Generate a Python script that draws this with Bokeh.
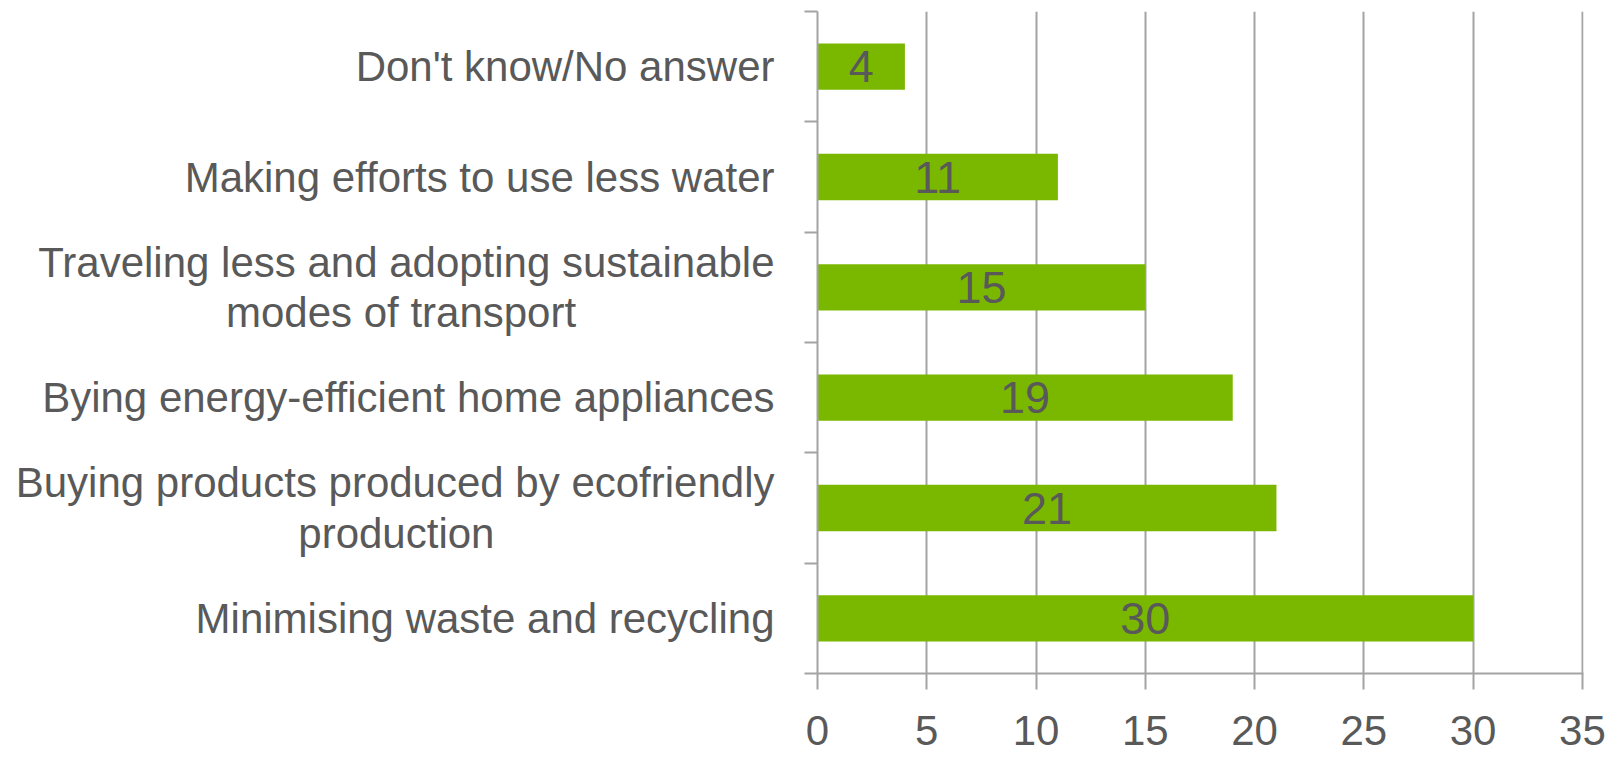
from bokeh.plotting import figure
from bokeh.models import FixedTicker, Range1d, ColumnDataSource, LinearAxis
from bokeh.core.properties import value
from bokeh.embed import file_html
from bokeh.resources import INLINE

NB = "\u00a0"
categories = [
    "Minimising waste and recycling",
    "Buying products produced by ecofriendly\nproduction" + NB * 24,
    "Bying energy-efficient home appliances",
    "Traveling less and adopting sustainable\nmodes of transport" + NB * 17,
    "Making efforts to use less water",
    "Don't know/No answer",
]
values = [30, 21, 19, 15, 11, 4]
x_ticks = [0, 5, 10, 15, 20, 25, 30, 35]

FONT = "Liberation Sans"
GREEN = "#7AB800"
TEXT = "#595959"
GRID = "#A3A3A3"

W, H = 1614, 764
FL, FR, FT, FB = 817, 1583, 11, 673  # frame edges in px

p = figure(width=W, height=H, output_backend="svg", toolbar_location=None,
           x_range=Range1d(0, 35.05), y_range=Range1d(0, len(categories)),
           min_border_left=FL, min_border_right=W - FR, min_border_top=FT,
           min_border_bottom=H - FB)
p.outline_line_color = None
p.background_fill_color = "white"
p.border_fill_color = "white"

ys = [i + 0.5 for i in range(len(categories))]
src = ColumnDataSource(dict(y=ys, v=values, xm=[v / 2 for v in values],
                            t=[str(v) for v in values]))
p.hbar(y="y", right="v", left=0, height=0.42, source=src,
       fill_color=GREEN, line_color=None)
p.text(x="xm", y="y", text="t", source=src, text_align="center",
       text_baseline="middle", text_color=TEXT, text_font=value(FONT),
       text_font_size="45px")

# x axis
xa = p.xaxis[0]
xa.ticker = FixedTicker(ticks=x_ticks)
xa.axis_line_color = GRID
xa.axis_line_width = 2
xa.major_tick_line_color = GRID
xa.major_tick_line_width = 2
xa.major_tick_out = 16
xa.major_tick_in = 0
xa.minor_tick_line_color = None
xa.major_label_standoff = 26
xa.major_label_text_font = FONT
xa.major_label_text_font_size = "42px"
xa.major_label_text_color = TEXT

# y axis (ticks at category boundaries, no labels)
ya = p.yaxis[0]
ya.ticker = FixedTicker(ticks=list(range(len(categories) + 1)))
ya.axis_line_color = GRID
ya.axis_line_width = 2
ya.major_tick_line_color = GRID
ya.major_tick_line_width = 2
ya.major_tick_out = 13
ya.major_tick_in = 0
ya.minor_tick_line_color = None
ya.major_label_overrides = {t: "" for t in range(len(categories) + 1)}
ya.major_label_standoff = 0

# category label axis
yb = LinearAxis(ticker=FixedTicker(ticks=ys),
                major_label_overrides={y: c for y, c in zip(ys, categories)})
yb.axis_line_color = None
yb.major_tick_line_color = None
yb.major_tick_out = 0
yb.major_tick_in = 0
yb.minor_tick_line_color = None
yb.major_label_standoff = 30
yb.major_label_text_font = FONT
yb.major_label_text_font_size = "42px"
yb.major_label_text_color = TEXT
yb.major_label_text_line_height = 1.07
p.add_layout(yb, "left")

p.xgrid.ticker = FixedTicker(ticks=x_ticks)
p.xgrid.grid_line_color = GRID
p.xgrid.grid_line_width = 2
p.ygrid.grid_line_color = None

open("out.html", "w").write(file_html(p, INLINE))
